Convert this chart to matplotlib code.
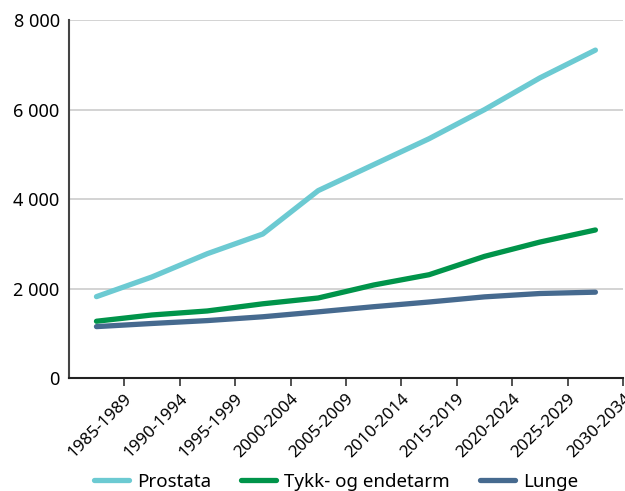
import matplotlib.pyplot as plt

plt.rcParams['font.family'] = ['Noto Sans', 'DejaVu Sans']

periods = ["1985-1989", "1990-1994", "1995-1999", "2000-2004", "2005-2009",
           "2010-2014", "2015-2019", "2020-2024", "2025-2029", "2030-2034"]
prostata = [1820, 2260, 2780, 3220, 4190, 4770, 5350, 6000, 6710, 7330]
tykk = [1270, 1410, 1500, 1660, 1790, 2080, 2310, 2720, 3040, 3310]
lunge = [1150, 1220, 1285, 1370, 1480, 1595, 1700, 1815, 1890, 1920]

series = [("Prostata", prostata, "#6ccad2"),
          ("Tykk- og endetarm", tykk, "#00944a"),
          ("Lunge", lunge, "#466a8f")]

fig = plt.figure(figsize=(6.25, 4.91), dpi=100)
ax = fig.add_axes([0.110, 0.230, 0.887, 0.729])

x = [i + 0.5 for i in range(len(periods))]  # points sit in middle of each slot
for name, vals, col in series:
    ax.plot(x, vals, color=col, lw=3.8, solid_capstyle='round',
            solid_joinstyle='round', label=name)

ax.set_xlim(0, len(periods))
ax.set_ylim(0, 8000)
ax.tick_params(axis='y', length=0, pad=6.5, labelsize=13)
ax.tick_params(axis='x', length=6, width=1.2, color='#333333', pad=3,
               labelsize=12.2, labelrotation=45)
ax.set_yticks([0, 2000, 4000, 6000, 8000])
ax.set_yticklabels(["0", "2 000", "4 000", "6 000", "8 000"])

# tick labels sit at the slot boundaries
ax.set_xticks(range(1, len(periods) + 1))
ax.set_xticklabels(periods)
plt.setp(ax.get_xticklabels(), ha='right', va='top', rotation_mode='anchor')

ax.grid(axis='y', color='#cccccc', lw=1.2)
ax.set_axisbelow(True)
for s in ['top', 'right']:
    ax.spines[s].set_visible(False)
ax.spines['left'].set_color('#444444')
ax.spines['left'].set_linewidth(1.5)
ax.spines['bottom'].set_color('#222222')
ax.spines['bottom'].set_linewidth(1.5)

fig.legend(loc='center', bbox_to_anchor=(0.538, 0.019), ncol=3, frameon=False,
           fontsize=13.5, handlelength=1.85, columnspacing=1.6, handletextpad=0.45,
           borderpad=0)

fig.savefig("out.png", dpi=100)
